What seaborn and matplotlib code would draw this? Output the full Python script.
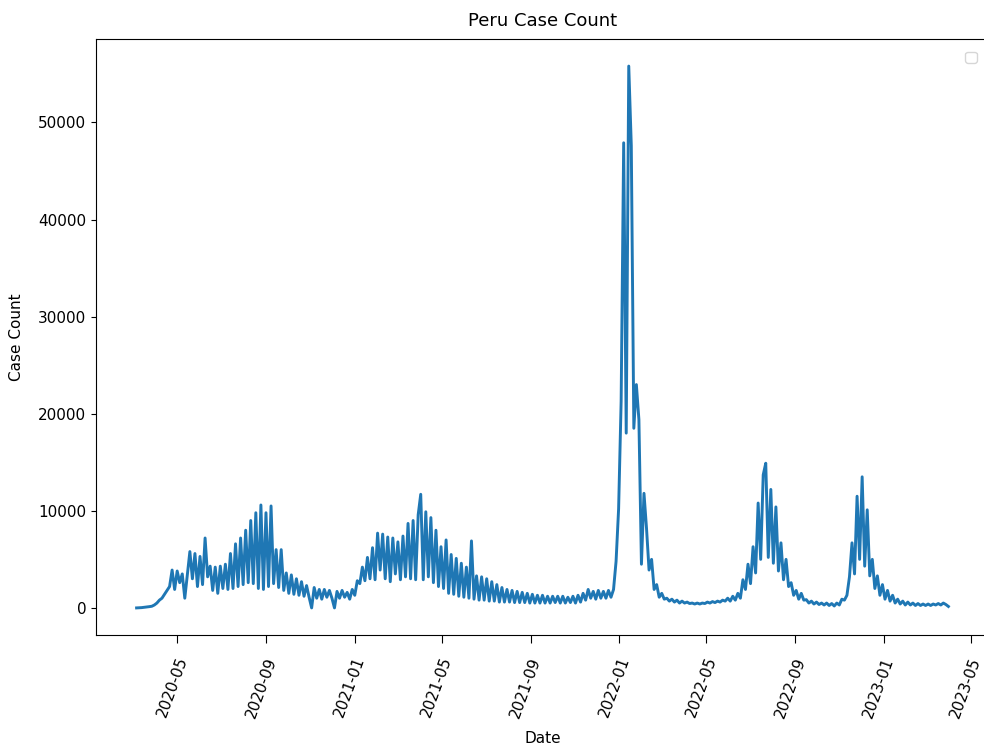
import matplotlib
matplotlib.use("Agg")
import matplotlib.pyplot as plt
import matplotlib.dates as mdates
from matplotlib.transforms import ScaledTranslation
import numpy as np
import pandas as pd
import seaborn as sns

# Peru daily confirmed cases, sampled every 3.5 days (weekly high / weekly low)
start_date = "2020-03-06"
step = "84h"
cases = [
    0, 10, 30, 60, 90, 130, 170, 300,
    500, 800, 1000, 1400, 1800, 2200, 3900, 1900,
    3800, 2600, 3500, 1000, 3400, 5800, 3000, 5600,
    2200, 5300, 2400, 7200, 3200, 4300, 1800, 4200,
    1500, 4300, 2000, 4500, 1900, 5600, 2000, 6600,
    2200, 7200, 2400, 8000, 2600, 9000, 2500, 9800,
    2000, 10600, 1900, 9800, 2200, 10500, 2500, 6000,
    2100, 6000, 1800, 3600, 1500, 3400, 1400, 3000,
    1300, 2700, 1200, 2300, 1100, 0, 2100, 1000,
    1900, 900, 1900, 1100, 1800, 1000, 0, 1700,
    1000, 1800, 1100, 1600, 900, 1900, 1300, 2800,
    2500, 4200, 2800, 5200, 3000, 6200, 2900, 7700,
    3900, 7600, 3000, 7300, 2700, 7200, 3500, 6800,
    2900, 7400, 3200, 8700, 3000, 9000, 2900, 9600,
    11700, 2900, 9900, 3200, 9300, 2600, 8000, 2200,
    6300, 2000, 7000, 1500, 5500, 1400, 5100, 1200,
    4600, 1100, 4200, 1000, 6900, 900, 3300, 800,
    3200, 800, 3000, 700, 2700, 700, 2400, 600,
    2100, 600, 1900, 600, 1800, 550, 1700, 550,
    1600, 550, 1500, 500, 1400, 500, 1300, 500,
    1300, 500, 1200, 500, 1200, 550, 1200, 500,
    1200, 500, 1100, 550, 1200, 500, 1300, 600,
    1500, 800, 1900, 1000, 1700, 900, 1800, 1000,
    1700, 1000, 1800, 1100, 1900, 4800, 10200, 21300,
    47900, 18000, 55800, 47600, 18500, 23000, 19400, 4500,
    11800, 8200, 3900, 5000, 1900, 2400, 1100, 1500,
    900, 1000, 700, 900, 600, 800, 500, 700,
    500, 600, 450, 500, 400, 500, 400, 500,
    450, 600, 500, 650, 550, 700, 600, 800,
    700, 1000, 700, 1200, 800, 1500, 1000, 2900,
    1900, 4500, 2500, 6300, 3600, 10800, 5000, 13700,
    14900, 5200, 12200, 4600, 10400, 3800, 6700, 2900,
    5000, 2200, 2600, 1300, 1800, 900, 1500, 800,
    850, 500, 700, 400, 600, 350, 500, 300,
    500, 250, 450, 200, 500, 300, 900, 800,
    1300, 3200, 6700, 3500, 11500, 5000, 13500, 4300,
    10100, 3300, 5000, 2000, 3300, 1300, 2400, 900,
    1800, 700, 1300, 500, 900, 400, 700, 300,
    600, 300, 500, 250, 450, 250, 400, 250,
    400, 250, 400, 300, 450, 300, 500, 350, 150,
]

dates = pd.date_range(start_date, periods=len(cases), freq=step)
df = pd.DataFrame({"Date": dates, "Case Count": cases})

plt.rcParams["font.family"] = ["DejaVu Sans"]

fig = plt.figure(figsize=(9.84, 7.55), dpi=100)
ax = fig.add_axes([96 / 984, 1 - 635 / 755, 893 / 984, 596 / 755])

sns.lineplot(data=df, x="Date", y="Case Count", ax=ax, color="#1f77b4", linewidth=2.1)

ax.set_title("Peru Case Count", fontsize=13, pad=9)
ax.set_xlabel("Date", fontsize=11, labelpad=8)
ax.set_ylabel("Case Count", fontsize=11, labelpad=10)

ax.xaxis.set_major_locator(mdates.MonthLocator(bymonth=[1, 5, 9]))
ax.xaxis.set_major_formatter(mdates.DateFormatter("%Y-%m"))
ax.tick_params(axis="x", labelsize=11, rotation=70, length=5.8, pad=8.5)
ax.tick_params(axis="y", labelsize=11)

# nudge the slanted date labels a little to the left of their ticks
shift = ScaledTranslation(-5 / 100, 0, fig.dpi_scale_trans)
for label in ax.get_xticklabels():
    label.set_transform(label.get_transform() + shift)

ax.legend(handles=[], loc="upper right", borderaxespad=0.9)

fig.savefig("out.png", dpi=100)
